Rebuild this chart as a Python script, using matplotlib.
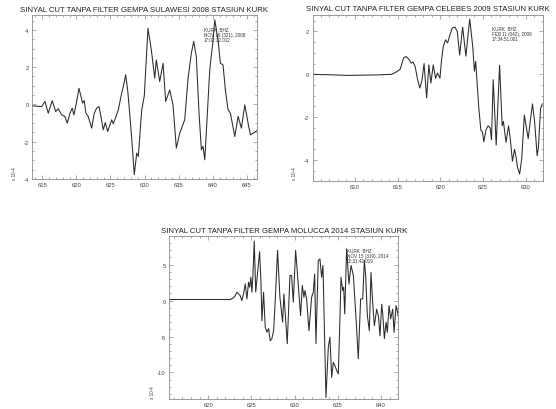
import matplotlib
matplotlib.use("Agg")
import matplotlib.pyplot as plt
from matplotlib.ticker import MultipleLocator

plt.rcParams['font.family'] = ['Liberation Sans', 'DejaVu Sans']
plt.rcParams['axes.unicode_minus'] = False

# ---- data (time in s, amplitude x 10^-4) ----
t1 = [613.5, 614.66, 614.91, 615.40, 615.88, 616.47, 616.97, 617.35, 617.85, 618.33,
      618.67, 619.07, 619.40, 619.65, 620.05, 620.39, 620.68, 620.93, 621.16, 621.41,
      621.75, 622.25, 622.63, 622.98, 623.32, 623.62, 623.95, 624.25, 624.60, 625.19,
      625.42, 625.82, 626.16, 626.65, 626.89, 627.24, 627.53, 627.87, 628.21, 628.50,
      628.86, 629.09, 629.59, 629.97, 630.51, 631.0, 631.5, 631.73, 632.23, 632.72,
      633.11, 633.70, 634.18, 634.67, 635.17, 635.90, 636.39, 636.87, 637.22, 637.60,
      638.0, 638.34, 638.59, 638.84, 639.22, 639.57, 640.06, 640.30, 640.79, 641.13,
      641.52, 641.86, 642.26, 642.60, 643.24, 643.73, 644.21, 644.71, 645.19, 645.53,
      645.93, 646.5]
a1 = [-0.07, -0.11, -0.12, 0.16, -0.47, 0.2, -0.38, -0.23, -0.56, -0.65,
      -1.0, -0.47, -0.2, -0.56, 0.16, 0.87, 0.43, 0.07, 0.21, -0.47,
      -0.65, -1.27, -0.47, -0.2, -0.11, -0.65, -1.36, -0.97, -1.45, -0.82,
      -1.04, -0.65, -0.29, 0.61, 0.96, 1.59, 0.78, -0.65, -2.25, -3.77,
      -2.61, -2.79, -0.3, 0.46, 4.09, 2.93, 1.41, 2.39, 1.23, 2.21,
      0.16, 0.78, -0.02, -2.34, -1.54, -0.82, 1.41, 2.75, 3.38, 2.57,
      -0.47, -2.43, -2.25, -2.97, -0.47, 1.86, 3.46, 4.54, 3.46, 2.21,
      2.12, 0.78, -0.29, -0.47, -1.72, -0.64, -1.27, -0.02, -1.0, -1.63,
      -1.54, -1.4]

t2 = [605.0, 606.9, 609.2, 612.3, 614.3, 614.8, 615.3, 615.7, 616.0, 616.3,
      616.6, 616.8, 617.05, 617.35, 617.6, 617.85, 618.1, 618.4, 618.66, 618.9,
      619.17, 619.45, 619.68, 619.96, 620.15, 620.35, 620.62, 620.86, 621.13, 621.41,
      621.72, 621.99, 622.27, 622.62, 623.0, 623.45, 623.8, 624.0, 624.15, 624.5,
      624.75, 624.95, 625.1, 625.35, 625.6, 625.85, 626.0, 626.2, 626.55, 626.95,
      627.25, 627.4, 627.7, 628.0, 628.2, 628.45, 628.7, 628.85, 629.05, 629.3,
      629.55, 629.85, 630.3, 630.55, 630.8, 631.05, 631.35, 631.5, 631.75, 631.95]
a2 = [0.0, -0.02, -0.05, -0.03, 0.0, 0.1, 0.24, 0.76, 0.83, 0.71,
      0.52, 0.58, 0.37, -0.26, -0.64, -0.3, 0.5, -1.1, 0.44, -0.41,
      0.44, -0.18, 0.06, -0.18, 0.68, 1.3, 1.61, 1.46, 1.84, 2.16,
      2.2, 2.0, 0.9, 2.2, 0.85, 2.58, 1.3, 0.15, 0.6, -1.5,
      -2.6, -2.7, -3.15, -2.6, -2.4, -2.5, -3.05, -0.25, -3.3, 0.42,
      -2.4, -2.2, -3.17, -2.4, -3.0, -4.05, -3.5, -3.8, -4.34, -4.65,
      -3.9, -1.9, -3.0, -2.16, -1.38, -2.2, -3.8, -3.4, -1.6, -1.38]

t3 = [615.5, 619.0, 622.55, 622.93, 623.13, 623.32, 623.51, 623.7, 623.9, 624.09,
      624.29, 624.48, 624.67, 624.8, 624.94, 625.06, 625.17, 625.33, 625.5, 625.95,
      626.1, 626.22, 626.41, 626.6, 626.8, 626.99, 627.18, 627.37, 627.57, 627.76,
      628.03, 628.3, 628.61, 628.76, 629.15, 629.46, 629.65, 629.85, 630.12, 630.42,
      630.69, 630.89, 631.08, 631.2, 631.39, 631.66, 631.97, 632.16, 632.32, 632.47,
      632.74, 632.93, 633.13, 633.28, 633.63, 633.9, 634.09, 634.29, 634.48, 634.67,
      634.87, 635.06, 635.25, 635.37, 635.56, 635.68, 635.8, 636.02, 636.29, 636.53,
      636.8, 637.1, 637.37, 637.64, 637.88, 638.07, 638.22, 638.42, 638.65, 638.84,
      639.03, 639.23, 639.5, 639.69, 639.88, 640.08, 640.2, 640.39, 640.58, 640.73,
      640.93, 641.12, 641.35, 641.51, 641.74, 642.0]
a3 = [0.15, 0.15, 0.15, 0.37, 0.7, 1.16, 0.93, 0.7, 0.0, 0.93,
      2.32, 0.23, 2.55, 1.86, 3.25, 1.16, 3.34, 8.3, 1.2, 6.8,
      2.8, -2.8, 1.16, -3.7, -4.4, -3.9, -5.6, -5.3, -4.2, 0.0,
      7.0, 0.46, -3.0, 0.93, -6.0, 3.5, 3.5, -0.23, 7.0, 2.3,
      -2.1, 2.1, 0.46, 1.4, 0.23, -4.2, 0.46, 1.16, 3.7, -6.0,
      5.6, 5.8, 3.25, 4.9, -13.5, -6.5, -5.1, -10.7, -8.6, -9.05,
      -9.75, -10.2, -2.3, 3.25, 1.4, 1.86, -1.86, 7.2, 2.3, 4.9,
      3.5, -2.3, -8.1, 0.23, 0.23, 5.6, 3.5, -2.1, -4.2, 3.9,
      -0.2, -3.5, -1.2, -2.1, -4.9, -0.5, -1.9, -5.3, -3.0, -4.4,
      -0.7, -2.55, -1.2, -4.4, -0.7, -2.1]

titles = ["SINYAL CUT TANPA FILTER GEMPA SULAWESI 2008 STASIUN KURK",
          "SINYAL CUT TANPA FILTER GEMPA CELEBES 2009 STASIUN KURK",
          "SINYAL CUT TANPA FILTER GEMPA MOLUCCA 2014 STASIUN KURK"]
notes = ["KURK  BHZ\nNOV 16 (321), 2008\n17:02:32.012",
         "KURK  BHZ\nFEB 11 (042), 2009\n17:34:51.001",
         "KURK  BHZ\nNOV 15 (319), 2014\n02:31:42.019"]

W, H = 556, 410
fig = plt.figure(figsize=(W / 100, H / 100), dpi=100)

def rect(l, r, t, b):
    return [l / W, 1 - b / H, (r - l) / W, (b - t) / H]

panels = [
    dict(t=t1, a=a1, rect=rect(32, 257, 16, 180), xlim=(613.5, 646.5), ylim=(-4.0, 4.8),
         ymaj=2, ymin=0.5, note_px=(204, 28), lab_px=(14, 174)),
    dict(t=t2, a=a2, rect=rect(312.7, 542.7, 15.7, 181.7), xlim=(605.05, 632.0), ylim=(-4.96, 2.78),
         ymaj=2, ymin=0.5, note_px=(492, 27), lab_px=(295, 174)),
    dict(t=t3, a=a3, rect=rect(169.3, 398.3, 237.3, 400), xlim=(615.5, 642.0), ylim=(-13.7, 8.95),
         ymaj=5, ymin=1, note_px=(347, 249), lab_px=(152, 393)),
]

line_col = '#2a2a2a'
frame_col = '#8a8a8a'
tick_col = '#444444'

for p, title, note in zip(panels, titles, notes):
    ax = fig.add_axes(p['rect'])
    ax.plot(p['t'], p['a'], color=line_col, lw=0.75)
    ax.set_xlim(*p['xlim'])
    ax.set_ylim(*p['ylim'])
    ax.xaxis.set_major_locator(MultipleLocator(5))
    ax.xaxis.set_minor_locator(MultipleLocator(1))
    ax.yaxis.set_major_locator(MultipleLocator(p['ymaj']))
    ax.yaxis.set_minor_locator(MultipleLocator(p['ymin']))
    ax.tick_params(which='both', direction='in', top=True, right=True,
                   colors=frame_col, labelcolor=tick_col, labelsize=4.2, width=0.5, pad=2.5)
    ax.tick_params(which='major', length=3)
    ax.tick_params(which='minor', length=1.6)
    for s in ax.spines.values():
        s.set_color(frame_col)
        s.set_linewidth(0.6)
    ax.set_title(title, fontsize=5.55, color='#222222', pad=3.2)
    nx, ny = p['note_px']
    fig.text(nx / W, 1 - ny / H, note, fontsize=3.3, color='#333333',
             va='top', ha='left', linespacing=1.05)
    lx, ly = p['lab_px']
    fig.text(lx / W, 1 - ly / H, "x 10-4", fontsize=3.3, color='#444444',
             rotation=90, ha='center', va='center')

fig.savefig("out.png", dpi=100)
